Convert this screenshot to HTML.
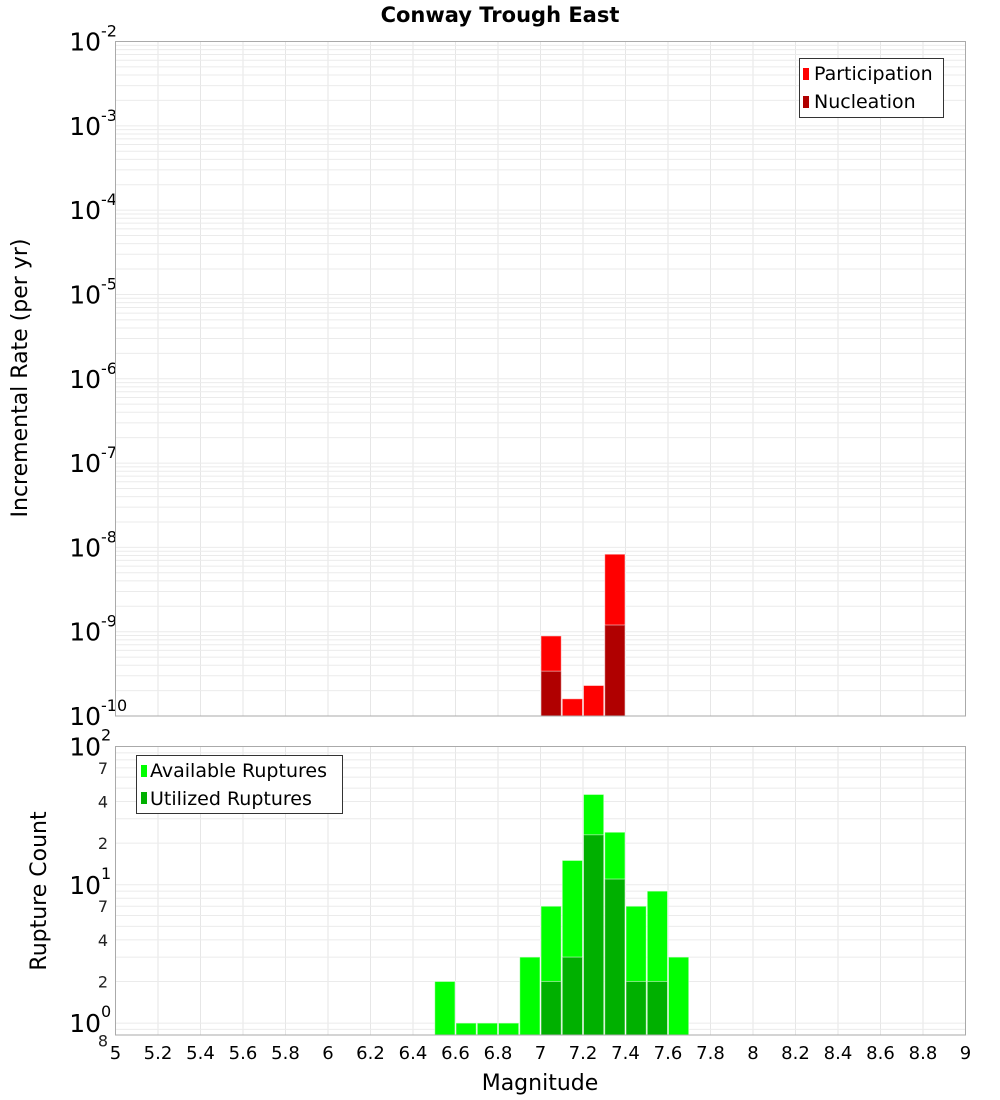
<!DOCTYPE html>
<html><head><meta charset="utf-8"><style>
body{margin:0;background:#fff;}
svg{display:block;font-family:"DejaVu Sans","Liberation Sans",sans-serif;}
</style></head><body>
<svg id="chart" width="1000" height="1100" viewBox="0 0 1000 1100" xmlns="http://www.w3.org/2000/svg">
<text x="500" y="22" text-anchor="middle" font-size="21" font-weight="bold">Conway Trough East</text>
<g id="grid1"></g>
<g id="grid2"></g>
<g id="bars1"></g>
<g id="bars2"></g>
<g id="axes"></g>
<text transform="translate(27,378) rotate(-90)" text-anchor="middle" font-size="22">Incremental Rate (per yr)</text>
<text transform="translate(46,891) rotate(-90)" text-anchor="middle" font-size="22">Rupture Count</text>
<text x="540" y="1090" text-anchor="middle" font-size="22">Magnitude</text>
<g>
<rect x="799.5" y="58.5" width="144" height="59" fill="#fff" stroke="#333"/>
<rect x="803" y="68" width="6" height="12" fill="#ff0000"/>
<text x="814" y="80" font-size="19">Participation</text>
<rect x="803" y="96" width="6" height="12" fill="#b00000"/>
<text x="814" y="108" font-size="19">Nucleation</text>
</g>
<g>
<rect x="136.5" y="755.5" width="206" height="58" fill="#fff" stroke="#333"/>
<rect x="141" y="765" width="6" height="12" fill="#00ff00"/>
<text x="150" y="777" font-size="19">Available Ruptures</text>
<rect x="141" y="792" width="6" height="12" fill="#00b000"/>
<text x="150" y="805" font-size="19">Utilized Ruptures</text>
</g>
</svg>
<script>
const binMags=[7.05,7.15,7.25,7.35];
const participation=[8.9e-10,1.6e-10,2.3e-10,8.3e-9];
const nucleation=[3.4e-10,0,0,1.2e-9];
const countMags=[6.55,6.65,6.75,6.85,6.95,7.05,7.15,7.25,7.35,7.45,7.55,7.65];
const available=[2,1,1,1,3,7,15,45,24,7,9,3];
const utilized=[0,0,0,0,0,2,3,23,11,2,2,0];
const xTicks=[5,5.2,5.4,5.6,5.8,6,6.2,6.4,6.6,6.8,7,7.2,7.4,7.6,7.8,8,8.2,8.4,8.6,8.8,9];
const topExps=[-10,-9,-8,-7,-6,-5,-4,-3,-2];
const botMinor=[2,4,7];

const NS="http://www.w3.org/2000/svg";
const L=115.5,R=965.5,T1=41.5,B1=716,T2=746.5,B2=1035;
const xs=m=>L+(m-5)/4*(R-L);
const y1=v=>B1-(Math.log10(v)+10)/8*(B1-T1);
const lo2=Math.log10(0.82),hi2=2;
const y2=v=>B2-(Math.log10(v)-lo2)/(hi2-lo2)*(B2-T2);
function mk(tag,attrs,parent){const e=document.createElementNS(NS,tag);for(const k in attrs)e.setAttribute(k,attrs[k]);parent.appendChild(e);return e;}
const g1=document.getElementById('grid1'),g2=document.getElementById('grid2'),ax=document.getElementById('axes');
const b1=document.getElementById('bars1'),b2=document.getElementById('bars2');
// grids
xTicks.forEach(t=>{
 let l=mk('line',{x1:xs(t),x2:xs(t),y1:T1,y2:B1,stroke:'#e6e6e6'},g1);
 
 
 let l2=mk('line',{x1:xs(t),x2:xs(t),y1:T2,y2:B2,stroke:'#e6e6e6'},g2);
 
 
 let tx=mk('text',{x:xs(t),y:1059,'text-anchor':'middle','font-size':18},ax);
 tx.textContent=String(t);
 
 
});
for(let e=-10;e<-2;e++){for(let k=1;k<10;k++){const v=k*Math.pow(10,e);
 let l=mk('line',{x1:L,x2:R,y1:y1(v),y2:y1(v),stroke:'#ebebeb'},g1);
 
 }}
for(let e=-1;e<2;e++){for(let k=1;k<10;k++){const v=k*Math.pow(10,e);if(v<0.82)continue;
 let l=mk('line',{x1:L,x2:R,y1:y2(v),y2:y2(v),stroke:'#ebebeb'},g2);
 
 }}
// top labels
topExps.forEach(e=>{
 const y=y1(Math.pow(10,e));
 let t=mk('text',{x:101,y:y+9,'text-anchor':'end','font-size':25},ax);
 t.textContent='10';
 
 
 let s=mk('text',{x:101,y:y-5,'text-anchor':'start','font-size':16},ax);
 s.textContent=String(e);
 
 
});
// bottom labels
[0,1,2].forEach(e=>{
 const y=y2(Math.pow(10,e));
 let t=mk('text',{x:101,y:y+9,'text-anchor':'end','font-size':25},ax);
 t.textContent='10';
 
 
 let s=mk('text',{x:101,y:y-6,'text-anchor':'start','font-size':16},ax);
 s.textContent=String(e);
 
 
});
[1,10].forEach(d=>botMinor.forEach(k=>{
 let t=mk('text',{x:108,y:y2(k*d)+6,'text-anchor':'end','font-size':16,fill:'#222'},ax);
 t.textContent=String(k);
 
 
}));
let t8=mk('text',{x:108,y:y2(0.8)+10,'text-anchor':'end','font-size':16,fill:'#222'},ax);
t8.textContent='8';


// bars
const bw=(R-L)/40;
function bar(parent,m,v,ybase,yf,col,name){
 if(!(v>0))return;
 const x=xs(m)-bw/2,y=yf(v);
 let r=mk('rect',{x:x+0.5,y:y,width:bw-1,height:ybase-y,fill:col,stroke:'#ffffff','stroke-opacity':0.5,'stroke-width':1},parent);
 
 
}
binMags.forEach((m,i)=>{bar(b1,m,participation[i],B1,y1,'#ff0000','participation-bar');bar(b1,m,nucleation[i],B1,y1,'#b00000','nucleation-bar');});
countMags.forEach((m,i)=>{bar(b2,m,available[i],B2,y2,'#00ff00','available-bar');bar(b2,m,utilized[i],B2,y2,'#00b000','utilized-bar');});
// frames
let f1=mk('rect',{x:L,y:T1,width:R-L,height:B1-T1,fill:'none',stroke:'#aaaaaa'},ax);


let f2=mk('rect',{x:L,y:T2,width:R-L,height:B2-T2,fill:'none',stroke:'#aaaaaa'},ax);


</script>
</body></html>
